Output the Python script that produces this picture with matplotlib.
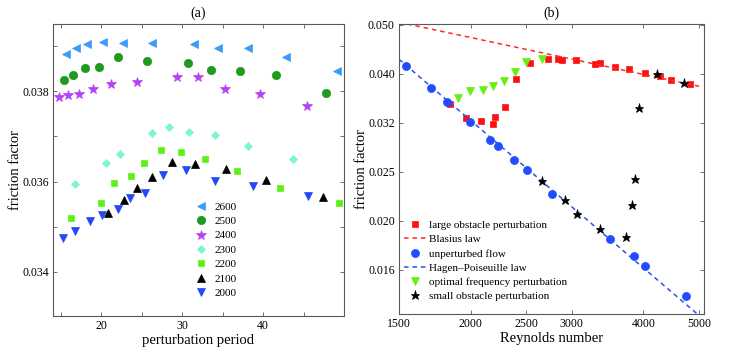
import numpy as np
import matplotlib
matplotlib.use('Agg')
import matplotlib.pyplot as plt
from matplotlib.ticker import FixedLocator, FixedFormatter, NullLocator

plt.rcParams['font.family'] = ['Liberation Serif', 'DejaVu Serif']
plt.rcParams['mathtext.fontset'] = 'stix'

# ---- panel (a): friction factor vs perturbation period, per Reynolds number
period_2600 = [15.6, 16.8, 18.2, 20.2, 22.6, 26.2, 31.5, 34.4, 38.1, 42.8, 49.1]
ff_2600     = [0.03882, 0.03896, 0.03904, 0.03910, 0.03908, 0.03908, 0.03904, 0.03896, 0.03896, 0.03876, 0.03844]

period_2500 = [15.4, 16.5, 17.9, 19.7, 22.1, 25.6, 30.7, 33.5, 37.1, 41.6, 47.8]
ff_2500     = [0.03824, 0.03836, 0.03851, 0.03853, 0.03876, 0.03868, 0.03862, 0.03847, 0.03844, 0.03835, 0.03796]

period_2400 = [14.8, 15.9, 17.2, 19.0, 21.2, 24.4, 29.3, 31.9, 35.3, 39.6, 45.4]
ff_2400     = [0.03787, 0.03791, 0.03793, 0.03806, 0.03816, 0.03820, 0.03831, 0.03831, 0.03805, 0.03794, 0.03767]

period_2300 = [16.7, 20.5, 22.3, 26.2, 28.3, 30.8, 34.0, 38.1, 43.7]
ff_2300     = [0.03595, 0.03642, 0.03661, 0.03707, 0.03720, 0.03710, 0.03704, 0.03679, 0.03650]

period_2200 = [16.2, 19.9, 21.6, 23.7, 25.3, 27.3, 29.8, 32.8, 36.8, 42.1, 49.4]
ff_2200     = [0.03519, 0.03552, 0.03596, 0.03613, 0.03641, 0.03669, 0.03665, 0.03649, 0.03624, 0.03585, 0.03553]

period_2100 = [20.8, 22.8, 24.4, 26.3, 28.7, 31.6, 35.4, 40.4, 47.4]
ff_2100     = [0.03530, 0.03559, 0.03586, 0.03611, 0.03643, 0.03639, 0.03627, 0.03604, 0.03566]

period_2000 = [15.2, 16.7, 18.6, 20.1, 22.0, 23.5, 25.4, 27.6, 30.4, 34.0, 38.8, 45.5]
ff_2000     = [0.03474, 0.03490, 0.03512, 0.03525, 0.03540, 0.03564, 0.03575, 0.03614, 0.03625, 0.03601, 0.03591, 0.03567]

# ---- panel (b): friction factor vs Reynolds number
re_large = [1840, 1960, 2082, 2188, 2205, 2298, 2396, 2542, 2726, 2838, 2885, 3052,
            3298, 3356, 3568, 3768, 4027, 4282, 4474, 4815]
ff_large = [0.03455, 0.03245, 0.03186, 0.03149, 0.03250, 0.03402, 0.03894, 0.04188, 0.04281, 0.04281,
            0.04261, 0.04261, 0.04167, 0.04197, 0.04122, 0.04080, 0.04006, 0.03938, 0.03870, 0.03793]

re_unpert = [1545, 1704, 1816, 1992, 2164, 2232, 2380, 2510, 2776, 3504, 3848, 4032, 4742]
ff_unpert = [0.04140, 0.03722, 0.03483, 0.03179, 0.02925, 0.02838, 0.02657, 0.02531, 0.02270,
             0.01836, 0.01689, 0.01617, 0.01405]

re_optimal = [1899, 1998, 2098, 2186, 2284, 2389, 2498, 2658]
ff_optimal = [0.03562, 0.03671, 0.03688, 0.03755, 0.03844, 0.04026, 0.04211, 0.04269]

re_small = [2661, 2921, 3062, 3358, 3733, 3823, 3864, 3931, 4226, 4702]
ff_small = [0.02406, 0.02197, 0.02059, 0.01918, 0.01855, 0.02146, 0.02425, 0.03394, 0.03978, 0.03810]

re_law = [1500, 5000]

re_ticks = [1500, 2000, 2500, 3000, 4000, 5000]
ff_tick_labels = ['0.016', '0.020', '0.025', '0.032', '0.040', '0.050']


fig = plt.figure(figsize=(7.36, 3.52), dpi=100)
ax_a = fig.add_axes([0.072, 0.1023, 0.3954, 0.8295])
ax_b = fig.add_axes([0.5421, 0.1071, 0.4144, 0.8261])

#  label   x             y         marker  color
series_a = [
    ('2600', period_2600, ff_2600, '<', '#3a9cf5'),
    ('2500', period_2500, ff_2500, 'o', '#1e9a1e'),
    ('2400', period_2400, ff_2400, '*', '#b643f0'),
    ('2300', period_2300, ff_2300, 'D', '#7af5d8'),
    ('2200', period_2200, ff_2200, 's', '#5cf016'),
    ('2100', period_2100, ff_2100, '^', 'black'),
    ('2000', period_2000, ff_2000, 'v', '#2348f8'),
]
sizes = {'<': 6, 'o': 6, '*': 7, 'D': 4.5, 's': 5, '^': 6, 'v': 6}
for label, x, y, m, c in series_a:
    ax_a.plot(x, y, linestyle='none', marker=m, color=c, markersize=sizes[m],
              markeredgewidth=0.5, label=label)

ax_a.set_xlim(14, 50)
ax_a.set_ylim(0.03302, 0.03949)
ax_a.xaxis.set_major_locator(FixedLocator([20, 30, 40]))
ax_a.xaxis.set_minor_locator(FixedLocator([15, 25, 35, 45]))
ax_a.yaxis.set_major_locator(FixedLocator([0.034, 0.036, 0.038]))
ax_a.yaxis.set_minor_locator(FixedLocator([0.035, 0.037, 0.039]))
ax_a.yaxis.set_major_formatter(FixedFormatter(['0.034', '0.036', '0.038']))
ax_a.set_xlabel('perturbation period', fontsize=10.5, labelpad=1)
ax_a.set_ylabel('friction factor', fontsize=10.5, labelpad=0)
ax_a.set_title('(a)', fontsize=10, pad=5)
ax_a.legend(loc='upper left', bbox_to_anchor=(0.47, 0.41), frameon=False, fontsize=8,
            numpoints=1, handlelength=1.0, handletextpad=0.7, labelspacing=0.42,
            borderpad=0)

# panel (b)
ax_b.set_xscale('log')
ax_b.set_yscale('log')
ax_b.plot(re_large, ff_large, linestyle='none', marker='s', color='#ff1010', markersize=5,
          markeredgewidth=0.5, label='large obstacle perturbation')
ax_b.plot(re_law, [0.316 * r ** -0.25 for r in re_law], '--', color='#ff2a2a', linewidth=1.1,
          dashes=(3, 2.5), label='Blasius law')
ax_b.plot(re_unpert, ff_unpert, linestyle='none', marker='o', color='#1f4cff', markersize=5.8,
          markeredgewidth=0.5, label='unperturbed flow')
ax_b.plot(re_law, [64.0 / r for r in re_law], '--', color='#2a50f0', linewidth=1.1,
          dashes=(3, 2.5), label='Hagen–Poiseuille law')
ax_b.plot(re_optimal, ff_optimal, linestyle='none', marker='v', color='#66f010', markersize=6,
          markeredgewidth=0.5, label='optimal frequency perturbation')
ax_b.plot(re_small, ff_small, linestyle='none', marker='*', color='black', markersize=6.5,
          markeredgewidth=0.5, label='small obstacle perturbation')

ax_b.set_xlim(1500, 5100)
ax_b.set_ylim(0.01287, 0.05047)
ax_b.xaxis.set_major_locator(FixedLocator(re_ticks))
ax_b.xaxis.set_major_formatter(FixedFormatter([str(r) for r in re_ticks]))
ax_b.xaxis.set_minor_locator(NullLocator())
ax_b.yaxis.set_major_locator(FixedLocator(10 ** np.array([-1.8, -1.7, -1.6, -1.5, -1.4, -1.3])))
ax_b.yaxis.set_major_formatter(FixedFormatter(ff_tick_labels))
ax_b.yaxis.set_minor_locator(NullLocator())
ax_b.set_xlabel('Reynolds number', fontsize=10.5, labelpad=1)
ax_b.set_ylabel('friction factor', fontsize=10.5, labelpad=0)
ax_b.set_title('(b)', fontsize=10, pad=5)
ax_b.legend(loc='upper left', bbox_to_anchor=(-0.01, 0.35), frameon=False, fontsize=8,
            numpoints=1, handlelength=2.0, handletextpad=0.25, labelspacing=0.4,
            borderpad=0.2)

for ax in (ax_a, ax_b):
    ax.tick_params(which='both', direction='in', top=True, right=True, length=3,
                   width=0.6, color='0.35', labelsize=8.5, pad=3)
    for s in ax.spines.values():
        s.set_color('0.35')
        s.set_linewidth(0.8)

fig.savefig('out.png', dpi=100)
